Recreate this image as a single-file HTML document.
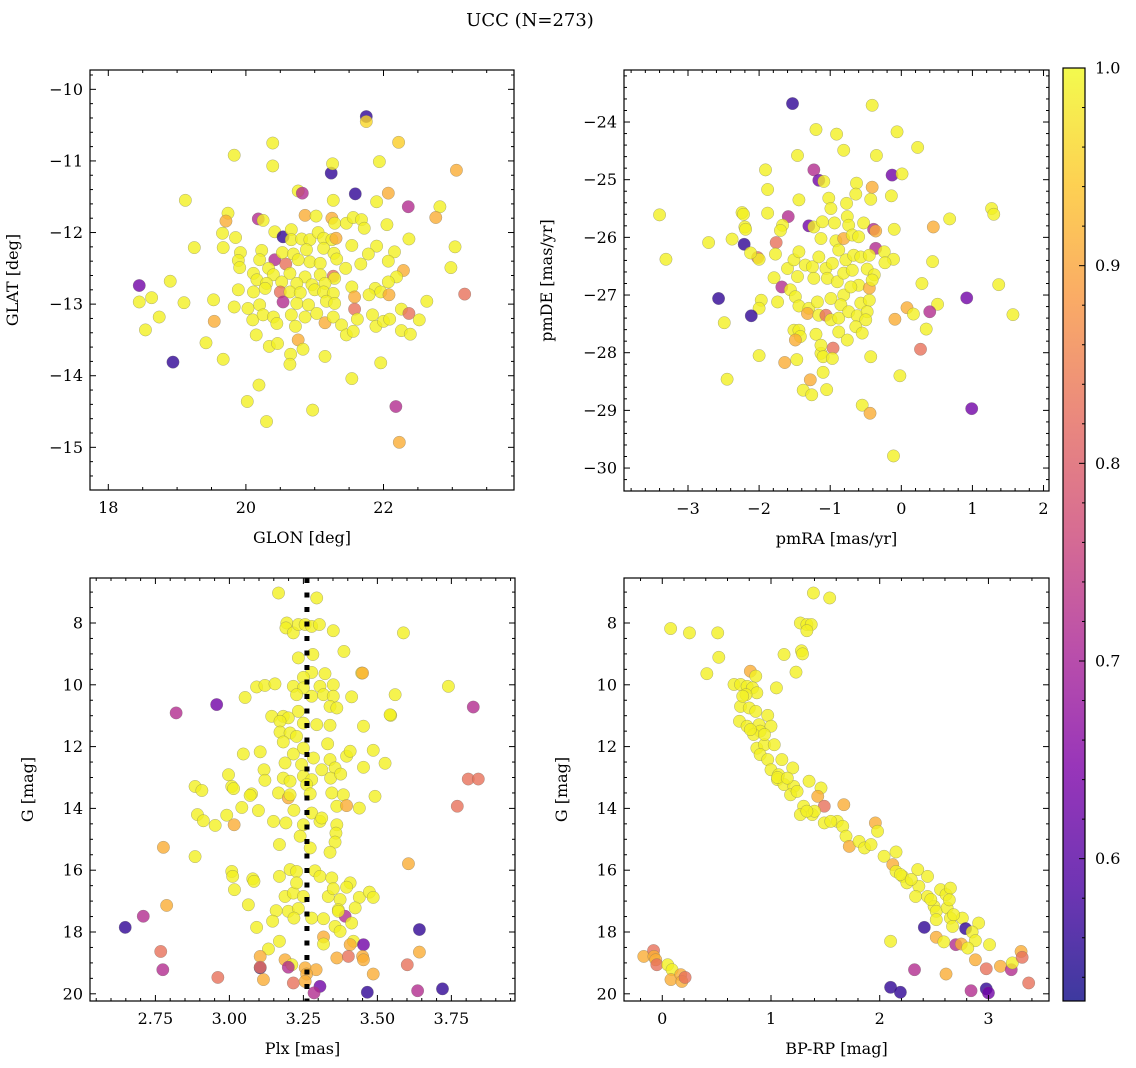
<!DOCTYPE html>
<html><head><meta charset="utf-8">
<style>
html,body{margin:0;padding:0;background:#fff;}
svg{display:block;font-family:"DejaVu Serif","Liberation Serif",serif;}
</style></head>
<body>
<svg id="fig" width="1136" height="1068" viewBox="0 0 1136 1068" xmlns="http://www.w3.org/2000/svg">
<text x="530" y="26" font-size="18" text-anchor="middle">UCC (N=273)</text>
</svg>
<script>
// ---- Panel 1: GLON / GLAT ----
const p1Glon=[19.83,20.39,21.75,21.75,22.22,20.39,21.24,21.26,21.94,23.06,19.12,20.76,20.82,21.59,21.27,21.9,22.07,22.36,22.82,22.76,19.74,19.71,20.18,20.25,20.86,21.02,21.25,21.29,21.46,21.56,21.68,21.72,22.05,19.66,19.25,19.67,19.85,20.42,20.54,20.66,20.66,20.81,20.93,21.05,21.13,21.25,21.31,21.54,21.9,22.37,23.04,19.92,19.89,19.91,20.23,20.2,20.42,20.58,20.53,20.69,20.88,21.13,21.28,21.32,21.78,22.16,22.07,21.67,21.45,20.93,21.08,20.76,20.11,20.33,20.4,20.64,20.86,21.08,21.27,21.29,22.29,22.19,22.07,22.98,18.45,18.9,20.16,20.52,20.3,20.74,20.96,21.15,21.54,21.88,21.96,19.89,20.11,20.28,20.5,20.64,20.79,21.0,21.13,21.27,21.58,21.79,22.08,23.18,18.45,18.63,19.1,19.53,19.83,20.03,20.2,20.54,20.74,20.91,21.17,21.29,21.58,22.26,22.37,22.63,18.74,18.54,19.54,20.1,20.25,20.4,20.66,20.86,21.03,21.15,21.27,21.39,21.62,21.84,21.89,22.0,22.09,22.52,22.26,22.39,20.15,20.45,20.72,21.46,21.56,20.76,19.42,20.34,20.46,20.83,20.65,19.67,21.15,18.94,20.64,21.96,20.19,21.54,20.02,20.97,20.3,22.18,22.23];
const p1Glat=[-10.92,-10.75,-10.38,-10.45,-10.74,-11.07,-11.17,-11.04,-11.01,-11.13,-11.55,-11.42,-11.45,-11.46,-11.55,-11.57,-11.45,-11.64,-11.64,-11.79,-11.73,-11.84,-11.81,-11.83,-11.76,-11.77,-11.8,-11.87,-11.87,-11.79,-11.82,-11.94,-11.89,-12.01,-12.21,-12.21,-12.07,-11.99,-12.06,-11.96,-12.1,-12.09,-12.1,-12.0,-12.08,-12.1,-12.08,-12.18,-12.19,-12.09,-12.2,-12.28,-12.39,-12.49,-12.25,-12.38,-12.38,-12.44,-12.28,-12.3,-12.24,-12.22,-12.29,-12.37,-12.3,-12.27,-12.4,-12.44,-12.5,-12.41,-12.43,-12.38,-12.57,-12.5,-12.59,-12.57,-12.62,-12.59,-12.61,-12.64,-12.53,-12.62,-12.69,-12.49,-12.74,-12.68,-12.66,-12.69,-12.71,-12.71,-12.73,-12.71,-12.76,-12.78,-12.83,-12.8,-12.83,-12.78,-12.83,-12.83,-12.84,-12.8,-12.83,-12.85,-12.9,-12.87,-12.87,-12.86,-12.97,-12.91,-12.98,-12.94,-13.04,-13.06,-13.01,-12.97,-12.99,-13.01,-12.96,-12.99,-13.07,-13.07,-13.13,-12.96,-13.18,-13.36,-13.24,-13.22,-13.15,-13.18,-13.15,-13.18,-13.13,-13.26,-13.18,-13.29,-13.21,-13.15,-13.31,-13.24,-13.21,-13.22,-13.37,-13.42,-13.43,-13.27,-13.31,-13.43,-13.38,-13.5,-13.54,-13.59,-13.55,-13.63,-13.7,-13.77,-13.73,-13.81,-13.84,-13.82,-14.13,-14.04,-14.36,-14.48,-14.64,-14.43,-14.93];
const p1Prob=[0.99,0.99,0.56,0.96,0.95,0.99,0.56,0.99,0.99,0.91,0.99,0.99,0.72,0.56,0.99,0.99,0.91,0.72,0.99,0.91,0.99,0.91,0.72,0.99,0.91,0.99,0.91,0.99,0.99,0.99,0.99,0.99,0.99,0.99,0.99,0.99,0.99,0.99,0.56,0.99,0.99,0.99,0.99,0.99,0.99,0.99,0.91,0.99,0.99,0.99,0.99,0.99,0.99,0.99,0.99,0.99,0.72,0.83,0.99,0.99,0.99,0.99,0.99,0.99,0.99,0.99,0.99,0.99,0.99,0.99,0.99,0.99,0.99,0.99,0.99,0.99,0.99,0.99,0.83,0.99,0.91,0.99,0.99,0.99,0.63,0.99,0.99,0.99,0.99,0.99,0.99,0.99,0.99,0.99,0.99,0.99,0.99,0.99,0.83,0.99,0.99,0.99,0.99,0.99,0.91,0.99,0.91,0.83,0.99,0.99,0.99,0.99,0.99,0.99,0.99,0.72,0.99,0.99,0.99,0.99,0.83,0.99,0.83,0.99,0.99,0.99,0.91,0.99,0.99,0.99,0.99,0.99,0.99,0.91,0.99,0.99,0.99,0.99,0.99,0.99,0.99,0.99,0.99,0.99,0.99,0.99,0.99,0.99,0.99,0.91,0.99,0.99,0.99,0.99,0.99,0.99,0.99,0.56,0.99,0.99,0.99,0.99,0.99,0.99,0.99,0.72,0.91];

// ---- Panel 2: pmRA / pmDE ----
const p2PmRA=[-1.53,-0.41,-1.2,-0.91,-0.06,-0.81,-0.35,0.23,-1.46,-1.91,-1.23,-1.16,-1.09,-0.63,-0.13,0.01,-1.88,-1.44,-0.41,-0.14,-1.02,-0.99,-0.77,-0.64,-0.43,-3.4,-2.24,-2.22,-1.88,-1.59,-1.67,-1.7,-2.2,-2.19,-1.3,-1.23,-1.11,-0.94,-0.76,-0.74,-0.53,-0.39,-0.36,-0.1,0.45,0.68,1.27,1.3,-2.71,-2.38,-2.21,-2.02,-2.0,-2.12,-1.76,-1.77,-3.31,-1.13,-0.92,-0.81,-0.69,-0.6,-0.36,-0.24,-0.11,-0.23,0.44,-1.6,-1.51,-1.44,-1.35,-1.25,-1.16,-1.06,-0.97,-0.88,-0.78,-0.67,-0.57,-0.45,-0.48,-0.38,-1.46,-1.23,-1.04,-0.9,-0.81,-0.69,-0.6,-0.45,-0.41,-1.79,-1.68,-1.56,-1.49,-1.44,-1.3,-1.18,-0.99,-0.81,-0.71,-0.57,-0.45,-0.85,-2.57,-1.97,-2.0,-1.74,-2.11,-2.49,-1.32,-1.16,-1.06,-0.99,-0.88,-0.74,-0.62,-0.48,-0.5,-0.64,-0.55,-0.88,-0.76,-1.2,-1.51,-1.44,-1.42,-1.49,0.92,0.51,0.08,0.17,0.4,1.37,1.57,0.29,-0.09,0.35,0.27,-0.96,-2.0,-1.64,-1.47,-1.13,-1.1,-1.28,-1.38,-1.26,-1.05,-0.43,-0.02,-2.45,-0.55,-0.44,0.99,-1.13,-1.1,-0.97,-0.11];
const p2PmDE=[-23.68,-23.71,-24.13,-24.21,-24.17,-24.49,-24.58,-24.44,-24.58,-24.83,-24.83,-25.01,-25.03,-25.06,-24.92,-24.9,-25.17,-25.35,-25.13,-25.28,-25.32,-25.5,-25.41,-25.25,-25.34,-25.61,-25.57,-25.6,-25.58,-25.64,-25.79,-25.88,-25.82,-25.86,-25.8,-25.82,-25.73,-25.75,-25.64,-25.79,-25.75,-25.86,-25.89,-25.86,-25.82,-25.68,-25.5,-25.6,-26.09,-26.03,-26.12,-26.35,-26.38,-26.27,-26.09,-26.29,-26.38,-26.02,-26.06,-26.02,-25.96,-25.99,-26.19,-26.25,-26.38,-26.44,-26.42,-26.54,-26.39,-26.25,-26.48,-26.51,-26.34,-26.54,-26.45,-26.22,-26.39,-26.31,-26.34,-26.31,-26.55,-26.65,-26.68,-26.71,-26.71,-26.77,-26.62,-26.57,-26.83,-26.88,-26.74,-26.7,-26.86,-26.91,-27.03,-27.19,-27.23,-27.12,-27.06,-27.0,-26.86,-27.14,-27.09,-27.17,-27.06,-27.09,-27.23,-27.12,-27.36,-27.48,-27.32,-27.35,-27.35,-27.43,-27.4,-27.29,-27.36,-27.29,-27.43,-27.55,-27.66,-27.64,-27.78,-27.68,-27.61,-27.61,-27.72,-27.78,-27.05,-27.16,-27.22,-27.33,-27.29,-26.82,-27.34,-26.8,-27.42,-27.59,-27.94,-27.92,-28.05,-28.17,-28.12,-28.01,-28.34,-28.47,-28.65,-28.73,-28.64,-28.07,-28.4,-28.46,-28.91,-29.05,-28.97,-27.87,-28.07,-28.1,-29.79];
const p2Prob=[0.56,0.99,0.99,0.99,0.99,0.99,0.99,0.99,0.99,0.99,0.72,0.63,0.99,0.99,0.63,0.99,0.99,0.99,0.91,0.99,0.99,0.99,0.99,0.99,0.99,0.99,0.99,0.99,0.99,0.72,0.99,0.99,0.99,0.99,0.63,0.99,0.99,0.99,0.99,0.99,0.99,0.72,0.91,0.99,0.91,0.99,0.99,0.99,0.99,0.99,0.56,0.83,0.99,0.99,0.83,0.99,0.99,0.99,0.99,0.91,0.99,0.99,0.72,0.99,0.99,0.99,0.99,0.99,0.99,0.99,0.99,0.99,0.99,0.99,0.99,0.99,0.99,0.99,0.99,0.99,0.99,0.99,0.99,0.99,0.99,0.99,0.99,0.99,0.99,0.91,0.99,0.99,0.72,0.99,0.99,0.99,0.99,0.99,0.99,0.99,0.99,0.99,0.99,0.99,0.56,0.99,0.99,0.99,0.56,0.99,0.91,0.99,0.83,0.99,0.99,0.99,0.99,0.99,0.99,0.99,0.99,0.99,0.99,0.99,0.99,0.99,0.99,0.91,0.63,0.99,0.91,0.99,0.72,0.99,0.99,0.99,0.91,0.99,0.83,0.83,0.99,0.91,0.99,0.99,0.99,0.91,0.99,0.99,0.99,0.99,0.99,0.99,0.99,0.91,0.63,0.99,0.99,0.99,0.99];

// ---- Panel 3: Plx / G ----
const p3Plx=[3.166,3.295,3.194,3.191,3.216,3.233,3.256,3.278,3.304,3.351,3.588,3.387,3.233,3.282,3.447,3.45,3.323,3.278,3.25,3.092,3.12,3.154,3.216,3.25,3.306,3.351,3.74,3.053,2.957,3.227,3.278,3.318,3.351,3.413,3.56,2.82,3.824,3.34,3.363,3.233,3.545,3.543,3.143,3.182,3.199,3.171,3.25,3.295,3.34,3.453,3.171,3.205,3.227,3.182,3.332,3.25,3.047,3.104,3.216,3.284,3.34,3.396,3.408,3.486,3.526,3.188,3.244,3.312,3.357,3.453,3.117,2.997,3.12,3.182,3.205,3.25,3.278,3.342,3.376,2.884,2.907,3.008,3.014,3.075,3.07,3.166,3.199,3.205,3.261,3.273,3.346,3.385,3.492,3.807,3.841,3.042,3.098,3.218,3.363,3.396,3.439,3.77,2.892,2.912,2.952,2.991,3.016,3.149,3.191,3.25,3.278,3.306,3.312,3.363,3.239,3.36,3.357,3.169,3.273,3.34,2.777,2.884,3.605,3.008,3.011,3.079,3.083,3.169,3.205,3.227,3.289,3.306,3.346,3.408,3.396,3.017,3.188,3.216,3.227,3.25,3.334,3.351,3.374,3.439,3.473,3.486,2.788,2.709,3.064,3.158,3.199,3.233,3.218,3.278,3.318,3.368,3.391,3.425,3.368,3.413,3.092,3.146,3.357,3.374,2.648,3.642,2.768,3.318,3.318,3.419,3.408,3.453,3.169,3.132,3.104,3.188,3.211,3.363,3.402,3.45,3.453,3.642,2.775,2.961,3.104,3.104,3.115,3.199,3.256,3.293,3.261,3.216,3.256,3.486,3.601,3.306,3.286,3.466,3.636,3.72];
const p3G=[7.03,7.19,8.0,8.16,8.32,8.05,8.05,8.11,8.05,8.25,8.32,8.92,9.13,9.02,9.62,9.62,9.64,9.6,9.76,10.07,10.02,9.97,10.05,10.1,10.05,10.0,10.05,10.41,10.64,10.32,10.37,10.32,10.37,10.39,10.32,10.91,10.72,10.7,10.75,10.86,10.99,10.97,11.02,11.02,11.07,11.18,11.24,11.29,11.31,11.34,11.53,11.56,11.67,11.85,11.91,12.05,12.24,12.17,12.24,12.37,12.42,12.31,12.15,12.12,12.54,12.53,12.58,12.75,12.69,12.67,12.75,12.91,13.09,13.02,13.12,12.96,13.07,13.02,12.89,13.29,13.42,13.29,13.36,13.53,13.58,13.5,13.66,13.56,13.23,13.53,13.5,13.56,13.61,13.05,13.05,13.97,14.07,14.06,13.93,13.91,13.99,13.93,14.2,14.4,14.55,14.22,14.53,14.42,14.47,14.53,14.15,14.42,14.31,14.53,14.9,14.8,15.09,15.17,15.28,15.42,15.26,15.56,15.79,16.04,16.2,16.28,16.36,16.2,15.98,16.04,16.02,16.2,16.25,16.41,16.55,16.63,16.85,16.74,16.41,16.85,16.85,16.6,16.95,16.88,16.71,16.88,17.14,17.49,17.12,17.31,17.33,17.24,17.55,17.55,17.57,17.28,17.49,17.22,17.33,17.71,17.85,17.65,17.82,17.98,17.85,17.92,18.63,18.16,18.39,18.3,18.41,18.41,18.3,18.55,18.79,18.9,19.06,18.84,18.79,18.79,18.9,18.65,19.22,19.47,19.16,19.14,19.54,19.14,19.16,19.22,19.36,19.65,19.6,19.36,19.06,19.76,19.97,19.95,19.9,19.84];
const p3Prob=[0.99,0.99,0.99,0.99,0.99,0.99,0.99,0.99,0.99,0.99,0.99,0.99,0.99,0.99,0.99,0.91,0.99,0.99,0.99,0.99,0.99,0.99,0.99,0.99,0.99,0.99,0.99,0.99,0.63,0.99,0.99,0.99,0.99,0.99,0.99,0.72,0.72,0.99,0.99,0.99,0.99,0.99,0.99,0.99,0.99,0.99,0.99,0.99,0.99,0.99,0.99,0.99,0.99,0.99,0.99,0.99,0.99,0.99,0.99,0.99,0.99,0.99,0.99,0.99,0.99,0.99,0.99,0.99,0.99,0.99,0.99,0.99,0.99,0.99,0.99,0.99,0.99,0.99,0.99,0.99,0.99,0.99,0.99,0.99,0.99,0.99,0.91,0.99,0.99,0.99,0.99,0.99,0.99,0.83,0.83,0.99,0.99,0.99,0.99,0.91,0.99,0.83,0.99,0.99,0.99,0.99,0.91,0.99,0.99,0.99,0.99,0.99,0.99,0.99,0.99,0.99,0.99,0.99,0.99,0.99,0.91,0.99,0.91,0.99,0.99,0.99,0.99,0.99,0.99,0.99,0.99,0.99,0.99,0.99,0.99,0.99,0.99,0.99,0.99,0.99,0.99,0.99,0.99,0.99,0.99,0.99,0.91,0.72,0.99,0.99,0.99,0.99,0.99,0.99,0.99,0.99,0.72,0.99,0.99,0.99,0.99,0.99,0.99,0.99,0.56,0.56,0.83,0.91,0.99,0.99,0.91,0.63,0.99,0.99,0.91,0.91,0.99,0.91,0.83,0.91,0.91,0.91,0.72,0.83,0.56,0.83,0.91,0.72,0.91,0.91,0.91,0.83,0.91,0.91,0.83,0.63,0.72,0.56,0.72,0.56];

// ---- Panel 4: BP-RP / G ----
const p4BpRp=[1.39,1.54,0.077,0.25,0.51,1.27,1.33,1.37,1.33,0.52,1.12,1.28,1.29,0.41,1.23,1.05,0.81,0.86,0.66,0.72,0.78,0.83,0.87,0.77,0.72,0.80,0.71,0.78,0.86,0.89,0.97,1.0,0.9,0.84,0.87,0.94,1.03,0.9,0.97,1.0,1.1,1.2,1.07,1.06,1.12,1.21,1.18,1.35,1.46,1.43,1.49,1.30,1.38,1.27,1.40,1.49,1.61,1.67,1.66,1.69,1.72,1.81,1.86,1.92,1.96,1.98,2.04,2.12,2.15,2.15,2.21,2.25,2.35,2.36,2.44,2.33,2.44,2.5,2.52,2.52,2.56,2.61,2.65,2.62,2.65,2.67,2.76,2.91,2.41,2.52,2.59,2.7,2.75,2.79,2.85,2.88,2.81,3.01,2.88,2.98,3.11,3.21,3.22,3.30,3.31,3.37,2.10,2.32,2.61,2.10,2.19,2.84,2.98,3.0,-0.17,-0.08,-0.077,-0.06,-0.05,0.05,0.09,0.08,0.17,0.18,0.21,0.74,0.94,0.81,1.06,1.15,1.24,1.33,1.55,2.19,2.29,2.47,2.64,2.68];
const p4G=[7.03,7.19,8.18,8.32,8.32,8.0,8.05,8.05,8.25,9.11,9.02,8.9,9.0,9.64,9.59,10.1,9.56,9.72,9.99,9.99,10.05,10.1,10.26,10.32,10.7,10.75,11.18,11.34,10.86,11.29,10.99,11.34,11.5,11.61,12.05,11.94,11.94,12.26,12.42,12.75,12.42,12.69,12.91,13.07,13.23,13.29,13.56,13.12,13.34,13.61,13.93,13.93,14.2,14.2,14.09,14.47,14.42,13.88,14.58,14.9,15.23,15.07,15.28,15.17,14.47,14.74,15.55,15.82,15.41,16.04,16.2,16.41,15.98,16.52,16.2,16.85,16.85,17.17,17.33,17.6,16.63,16.79,16.58,17.22,17.55,17.82,17.55,17.71,17.85,18.17,18.32,18.41,18.39,17.89,18.0,18.28,18.52,18.41,18.9,19.19,19.11,19.22,19.0,18.63,18.82,19.65,18.3,19.22,19.36,19.79,19.95,19.9,19.84,19.97,18.79,18.6,18.79,18.9,19.06,19.06,19.22,19.54,19.38,19.6,19.47,10.37,11.61,11.45,13.0,13.02,13.45,14.09,14.42,16.14,16.3,16.95,16.96,17.44];
const p4Prob=[0.99,0.99,0.99,0.99,0.99,0.99,0.99,0.99,0.99,0.99,0.99,0.99,0.99,0.99,0.99,0.99,0.91,0.99,0.99,0.99,0.99,0.99,0.99,0.99,0.99,0.99,0.99,0.99,0.99,0.99,0.99,0.99,0.99,0.99,0.99,0.99,0.99,0.99,0.99,0.99,0.99,0.99,0.99,0.99,0.99,0.99,0.99,0.99,0.99,0.91,0.83,0.99,0.99,0.99,0.99,0.99,0.99,0.91,0.99,0.99,0.91,0.99,0.99,0.99,0.91,0.99,0.99,0.91,0.99,0.99,0.99,0.99,0.99,0.99,0.99,0.99,0.99,0.99,0.99,0.99,0.99,0.99,0.99,0.99,0.99,0.99,0.99,0.99,0.56,0.91,0.99,0.72,0.91,0.56,0.99,0.99,0.99,0.99,0.91,0.83,0.91,0.72,0.99,0.91,0.83,0.83,0.99,0.72,0.91,0.56,0.56,0.72,0.56,0.63,0.91,0.83,0.91,0.91,0.83,0.99,0.99,0.91,0.91,0.91,0.83,0.99,0.99,0.99,0.99,0.99,0.99,0.99,0.99,0.99,0.99,0.99,0.99,0.99];

// ---- Tick labels / colorbar ----
const p1XTicks=[18,20,22], p1YTicks=[-10,-11,-12,-13,-14,-15];
const p2XTicks=[-3,-2,-1,0,1,2], p2YTicks=[-24,-25,-26,-27,-28,-29,-30];
const p3XTicks=[2.75,3.0,3.25,3.5,3.75], gTicks=[8,10,12,14,16,18,20];
const p4XTicks=[0,1,2,3];
const cbarTicks=[0.6,0.7,0.8,0.9,1.0];
const plxLine=3.262;
const probMin=0.528, probMax=1.0;

const NS="http://www.w3.org/2000/svg";
const svg=document.getElementById('fig');
function mk(tag,attrs,parent){const e=document.createElementNS(NS,tag);for(const k in attrs)e.setAttribute(k,attrs[k]);(parent||svg).appendChild(e);return e;}
const plasma=[[13,8,135],[76,2,161],[126,3,168],[169,35,149],[204,71,120],[229,107,93],[248,149,64],[253,197,39],[240,249,33]];
function cmap(p){let t=(p-probMin)/(probMax-probMin);t=Math.max(0,Math.min(1,t));const f=t*8,i=Math.min(7,Math.floor(f)),r=f-i;const a=plasma[i],b=plasma[i+1];return 'rgb('+[0,1,2].map(k=>Math.round(a[k]+(b[k]-a[k])*r)).join(',')+')';}
function fmtNum(v,dec){const s=Math.abs(v).toFixed(dec);return (v<0?'\u2212':'')+s;}

function panel(name,box,xd,yd,xs,ys,ps,xt,xminor,yt,yminor,xdec,ydec,xlabel,ylabel){
  const g=mk('g',{});  
  const X=v=>box.x0+(v-xd[0])/(xd[1]-xd[0])*(box.x1-box.x0);
  const Y=v=>box.y0+(v-yd[0])/(yd[1]-yd[0])*(box.y1-box.y0);
  const pts=mk('g',{},g);  
  for(let i=0;i<xs.length;i++){
    const c=mk('circle',{cx:X(xs[i]),cy:Y(ys[i]),r:6.2,fill:cmap(ps[i]),'fill-opacity':0.8,stroke:'rgba(110,110,100,0.55)','stroke-width':0.5},pts);
    
    
  }
  return {g,X,Y,finish:function(){
    const fr=mk('rect',{x:box.x0,y:box.y0,width:box.x1-box.x0,height:box.y1-box.y0,fill:'none',stroke:'#000','stroke-width':1.2},g);
     
    const tk=mk('g',{stroke:'#000','stroke-width':1},g);
     
    const xlo=Math.min(xd[0],xd[1]),xhi=Math.max(xd[0],xd[1]),ylo=Math.min(yd[0],yd[1]),yhi=Math.max(yd[0],yd[1]);
    const xstep=Math.abs(xt[1]-xt[0]);
    for(let v=Math.ceil(xlo/xminor)*xminor;v<=xhi+1e-9;v+=xminor){
      const major=Math.abs(v/xstep-Math.round(v/xstep))<1e-6;
      const L=major?6:3,x=X(v);
      mk('line',{x1:x,x2:x,y1:box.y1,y2:box.y1-L},tk);mk('line',{x1:x,x2:x,y1:box.y0,y2:box.y0+L},tk);
    }
    const ystep=Math.abs(yt[1]-yt[0]);
    for(let v=Math.ceil(ylo/yminor)*yminor;v<=yhi+1e-9;v+=yminor){
      const major=Math.abs(v/ystep-Math.round(v/ystep))<1e-6;
      const L=major?6:3,y=Y(v);
      mk('line',{x1:box.x0,x2:box.x0+L,y1:y,y2:y},tk);mk('line',{x1:box.x1,x2:box.x1-L,y1:y,y2:y},tk);
    }
    xt.forEach(t=>{const e=mk('text',{x:X(t),y:box.y1+23,'font-size':16,'text-anchor':'middle'},g);e.textContent=fmtNum(t,xdec);});
    yt.forEach(t=>{const e=mk('text',{x:box.x0-7,y:Y(t)+5.5,'font-size':16,'text-anchor':'end'},g);e.textContent=fmtNum(t,ydec);});
    const xl=mk('text',{x:(box.x0+box.x1)/2,y:box.y1+53,'font-size':16,'text-anchor':'middle'},g);xl.textContent=xlabel;
    
    const cx=box.x0-(ylabel==='G [mag]'?57:72);const cy=(box.y0+box.y1)/2;
    const yl=mk('text',{x:cx,y:cy,'font-size':16,'text-anchor':'middle',transform:'rotate(-90 '+cx+' '+cy+')'},g);yl.textContent=ylabel;
    
  }};
}

const A=panel('panel-glon-glat',{x0:90,x1:514,y0:70,y1:490},[17.734,23.897],[-9.730,-15.596],p1Glon,p1Glat,p1Prob,p1XTicks,0.5,p1YTicks,0.2,0,0,'GLON [deg]','GLAT [deg]');A.finish();
const B=panel('panel-pmra-pmde',{x0:624,x1:1049,y0:70,y1:491},[-3.90,2.077],[-23.098,-30.398],p2PmRA,p2PmDE,p2Prob,p2XTicks,0.2,p2YTicks,0.2,0,0,'pmRA [mas/yr]','pmDE [mas/yr]');B.finish();
const C=panel('panel-plx-g',{x0:90,x1:515,y0:578,y1:1001},[2.529,3.965],[6.544,20.233],p3Plx,p3G,p3Prob,p3XTicks,0.05,gTicks,0.5,2,0,'Plx [mas]','G [mag]');
const ln=mk('line',{x1:C.X(plxLine),x2:C.X(plxLine),y1:578,y2:1001,stroke:'#000','stroke-width':5,'stroke-dasharray':'5 9.5'},C.g);

C.finish();
const D=panel('panel-cmd',{x0:624,x1:1049,y0:578,y1:1001},[-0.352,3.557],[6.544,20.233],p4BpRp,p4G,p4Prob,p4XTicks,0.2,gTicks,0.5,0,0,'BP-RP [mag]','G [mag]');D.finish();

// colorbar
const cb=mk('g',{});
const defs=mk('defs',{},cb);const lg=mk('linearGradient',{id:'pg',x1:0,y1:1,x2:0,y2:0},defs);
plasma.forEach((c,i)=>{const t=i/8;mk('stop',{offset:t,'stop-color':'rgb('+c.join(',')+')'},lg);});
const cbx0=1063,cbx1=1085,cby0=68,cby1=1001;
mk('rect',{x:cbx0,y:cby0,width:cbx1-cbx0,height:cby1-cby0,fill:'url(#pg)','fill-opacity':0.8},cb);
mk('rect',{x:cbx0,y:cby0,width:cbx1-cbx0,height:cby1-cby0,fill:'none',stroke:'#000','stroke-width':1.2},cb);
const CY=v=>cby1-(v-probMin)/(probMax-probMin)*(cby1-cby0);
for(let v=0.54;v<=1.0001;v+=0.02){const y=CY(v);const maj=Math.abs(v*10-Math.round(v*10))<1e-6;mk('line',{x1:cbx1,x2:cbx1-(maj?6:3),y1:y,y2:y,stroke:'#000','stroke-width':1},cb);}
cbarTicks.forEach(t=>{const e=mk('text',{x:cbx1+10,y:CY(t)+5.5,'font-size':16},cb);e.textContent=t.toFixed(1);});
</script>
</body></html>
